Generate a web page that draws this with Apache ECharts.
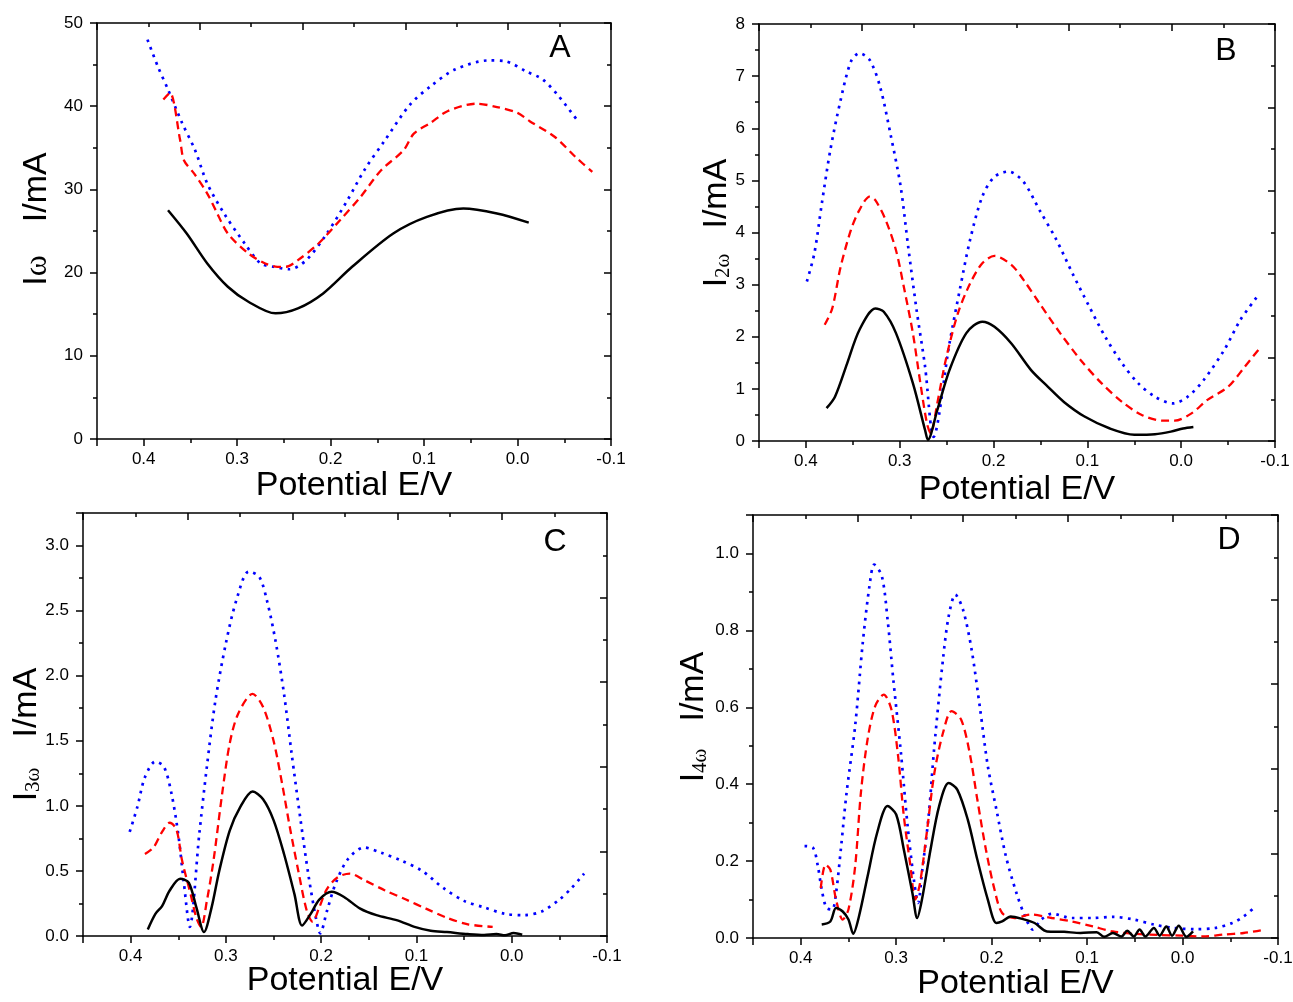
<!DOCTYPE html>
<html>
<head>
<meta charset="utf-8">
<script src="https://cdn.jsdelivr.net/npm/echarts@6/dist/echarts.min.js"></script>
<style>
  html, body { margin: 0; padding: 0; background: #fff; }
  #chart { width: 1293px; height: 1002px; }
</style>
</head>
<body>
<div id="chart"></div>
<script>
// [potential E/V, current] pairs
// panel A: I(omega)
const aBlack = [[0.374,27.5],[0.354,24.7],[0.332,21.1],[0.310,18.3],[0.288,16.5],[0.259,15.1],[0.235,15.7],[0.208,17.5],[0.177,20.7],[0.133,24.7],[0.097,26.7],[0.058,27.7],[0.022,27.1],[-0.012,26.0]];
const aRed = [[0.379,40.8],[0.372,41.6],[0.361,35.9],[0.357,33.5],[0.346,31.9],[0.332,29.5],[0.323,27.5],[0.310,24.7],[0.288,22.3],[0.270,21.1],[0.257,20.7],[0.248,20.7],[0.235,21.5],[0.213,23.5],[0.190,26.3],[0.168,29.1],[0.146,32.3],[0.122,34.7],[0.111,36.7],[0.093,38.0],[0.075,39.4],[0.044,40.3],[0.022,39.9],[0.0,39.2],[-0.013,38.2],[-0.040,36.3],[-0.062,33.9],[-0.080,32.1]];
const aBlue = [[0.396,48.0],[0.385,44.8],[0.374,42.0],[0.359,38.0],[0.345,34.7],[0.332,30.7],[0.314,27.1],[0.292,23.5],[0.275,21.1],[0.261,20.7],[0.244,20.4],[0.226,21.5],[0.204,24.7],[0.182,28.7],[0.164,32.3],[0.142,35.9],[0.115,40.2],[0.093,42.4],[0.067,44.4],[0.031,45.5],[0.013,45.4],[-0.009,44.2],[-0.027,43.2],[-0.044,41.2],[-0.066,38.0]];

// panel B: I(2 omega)
const bBlack = [[0.378,0.63],[0.369,0.85],[0.356,1.49],[0.343,2.13],[0.326,2.54],[0.317,2.48],[0.304,2.07],[0.286,1.11],[0.273,0.21],[0.270,0.02],[0.260,0.59],[0.247,1.36],[0.229,2.07],[0.212,2.29],[0.199,2.19],[0.181,1.87],[0.160,1.36],[0.142,1.04],[0.125,0.75],[0.103,0.47],[0.076,0.24],[0.050,0.12],[0.028,0.13],[0.011,0.18],[-0.002,0.24],[-0.013,0.27]];
const bRed = [[0.380,2.23],[0.372,2.54],[0.363,3.34],[0.352,4.05],[0.343,4.43],[0.332,4.69],[0.326,4.62],[0.315,4.24],[0.304,3.66],[0.295,2.90],[0.286,2.07],[0.278,1.11],[0.271,0.34],[0.267,0.15],[0.260,0.72],[0.251,1.55],[0.238,2.45],[0.225,3.02],[0.212,3.41],[0.199,3.55],[0.181,3.38],[0.168,3.09],[0.151,2.64],[0.129,2.07],[0.107,1.55],[0.085,1.11],[0.063,0.75],[0.042,0.50],[0.020,0.39],[0.007,0.39],[-0.011,0.53],[-0.028,0.79],[-0.050,1.04],[-0.068,1.43],[-0.085,1.81]];
const bBlue = [[0.399,3.06],[0.391,3.60],[0.383,4.56],[0.374,5.58],[0.363,6.54],[0.352,7.28],[0.343,7.44],[0.332,7.31],[0.321,6.80],[0.310,5.90],[0.299,4.88],[0.291,3.73],[0.282,2.51],[0.273,1.43],[0.264,0.08],[0.247,1.87],[0.236,2.90],[0.225,3.86],[0.212,4.69],[0.199,5.07],[0.184,5.17],[0.168,4.97],[0.151,4.43],[0.133,3.86],[0.116,3.22],[0.098,2.58],[0.081,2.00],[0.063,1.49],[0.046,1.11],[0.028,0.85],[0.009,0.72],[-0.007,0.85],[-0.024,1.17],[-0.046,1.75],[-0.063,2.32],[-0.081,2.77]];

// panel C: I(3 omega)
const cBlack = [[0.382,0.05],[0.374,0.17],[0.367,0.23],[0.359,0.35],[0.348,0.44],[0.339,0.41],[0.331,0.22],[0.323,0.03],[0.315,0.22],[0.307,0.50],[0.296,0.81],[0.285,0.99],[0.272,1.11],[0.261,1.05],[0.250,0.89],[0.239,0.63],[0.228,0.32],[0.220,0.08],[0.211,0.17],[0.202,0.28],[0.189,0.34],[0.176,0.30],[0.159,0.21],[0.142,0.16],[0.120,0.12],[0.102,0.07],[0.085,0.04],[0.068,0.03],[0.046,0.015],[0.029,0.008],[0.016,0.015],[0.007,0.005],[-0.002,0.023],[-0.011,0.01]];
const cRed = [[0.385,0.63],[0.376,0.68],[0.367,0.80],[0.359,0.87],[0.352,0.82],[0.346,0.58],[0.337,0.32],[0.331,0.14],[0.326,0.07],[0.320,0.27],[0.313,0.58],[0.304,1.09],[0.296,1.48],[0.287,1.71],[0.272,1.86],[0.261,1.76],[0.250,1.50],[0.241,1.17],[0.233,0.84],[0.224,0.50],[0.215,0.19],[0.209,0.11],[0.202,0.22],[0.194,0.36],[0.183,0.45],[0.170,0.48],[0.155,0.43],[0.133,0.35],[0.111,0.28],[0.090,0.21],[0.068,0.14],[0.046,0.09],[0.020,0.07]];
const cBlue = [[0.401,0.80],[0.393,0.99],[0.385,1.22],[0.374,1.34],[0.365,1.30],[0.357,1.09],[0.350,0.78],[0.344,0.40],[0.338,0.07],[0.328,0.78],[0.320,1.30],[0.311,1.81],[0.300,2.25],[0.289,2.58],[0.276,2.80],[0.265,2.76],[0.257,2.58],[0.248,2.27],[0.239,1.86],[0.231,1.40],[0.222,0.91],[0.213,0.45],[0.205,0.12],[0.201,0.02],[0.194,0.19],[0.185,0.40],[0.172,0.59],[0.155,0.68],[0.137,0.64],[0.116,0.58],[0.094,0.50],[0.072,0.37],[0.050,0.27],[0.029,0.22],[0.007,0.17],[-0.013,0.16],[-0.032,0.19],[-0.050,0.28],[-0.063,0.37],[-0.076,0.48]];

// panel D: I(4 omega)
const dBlack = [[0.378,0.035],[0.369,0.043],[0.363,0.078],[0.356,0.069],[0.350,0.048],[0.345,0.011],[0.339,0.056],[0.330,0.160],[0.320,0.273],[0.309,0.343],[0.300,0.321],[0.292,0.230],[0.283,0.117],[0.278,0.052],[0.273,0.100],[0.264,0.230],[0.255,0.343],[0.245,0.403],[0.236,0.386],[0.225,0.308],[0.215,0.204],[0.204,0.100],[0.195,0.039],[0.189,0.043],[0.180,0.056],[0.167,0.049],[0.155,0.039],[0.142,0.017],[0.124,0.016],[0.107,0.013],[0.090,0.015],[0.082,0.003],[0.073,0.013],[0.064,0.004],[0.058,0.019],[0.051,0.004],[0.045,0.022],[0.039,0.004],[0.030,0.026],[0.024,0.006],[0.017,0.030],[0.011,0.006],[0.004,0.032],[-0.004,0.003],[-0.011,0.017]];
const dRed = [[0.379,0.130],[0.374,0.191],[0.369,0.178],[0.363,0.100],[0.356,0.048],[0.350,0.074],[0.343,0.186],[0.337,0.377],[0.330,0.516],[0.322,0.603],[0.313,0.633],[0.305,0.594],[0.298,0.473],[0.292,0.317],[0.285,0.186],[0.280,0.100],[0.275,0.143],[0.268,0.273],[0.260,0.429],[0.251,0.533],[0.242,0.590],[0.232,0.568],[0.223,0.481],[0.215,0.360],[0.206,0.230],[0.197,0.126],[0.189,0.065],[0.176,0.052],[0.159,0.061],[0.137,0.052],[0.116,0.043],[0.094,0.030],[0.073,0.017],[0.051,0.011],[0.026,0.008],[0.0,0.006],[-0.021,0.004],[-0.043,0.009],[-0.064,0.013],[-0.082,0.020]];
const dBlue = [[0.396,0.239],[0.387,0.234],[0.382,0.186],[0.378,0.126],[0.373,0.078],[0.367,0.074],[0.363,0.117],[0.358,0.230],[0.352,0.377],[0.343,0.551],[0.335,0.768],[0.328,0.915],[0.323,0.971],[0.315,0.941],[0.309,0.828],[0.303,0.672],[0.295,0.481],[0.288,0.291],[0.281,0.143],[0.277,0.091],[0.273,0.169],[0.266,0.317],[0.260,0.499],[0.251,0.724],[0.245,0.837],[0.238,0.893],[0.230,0.854],[0.221,0.750],[0.212,0.594],[0.204,0.447],[0.195,0.334],[0.185,0.212],[0.174,0.117],[0.165,0.056],[0.157,0.022],[0.148,0.048],[0.137,0.063],[0.116,0.052],[0.094,0.052],[0.073,0.055],[0.051,0.048],[0.030,0.035],[0.009,0.026],[-0.013,0.023],[-0.034,0.026],[-0.052,0.039],[-0.064,0.056],[-0.076,0.081]];

// tick settings of the left axes
const yMax = [50, 8, 3.25, 1.1];
const yStep = [10, 1, 0.5, 0.2];
const letters = ['A', 'B', 'C', 'D'];
const subs = ['', '2', '3', '4'];

const FONT = 'Liberation Sans';
const black = '#000';

let myChart = echarts.init(document.getElementById('chart'));

// panel boxes [left, top, width, height]
let boxes = [
  [97, 23, 514, 416],
  [759, 24, 516, 417],
  [83, 513, 524, 423],
  [753, 515, 525, 423]
];
let xNameGap = [30, 32, 28, 29];
let yNameGap = [43, 25, 39, 42];
// shifts the rotated y title along the axis (left pad = up, right pad = down)
let yNamePad = [[0, 0, 0, 24], [0, 0, 0, 19], [0, 20, 0, 0], [0, 0, 0, 19]];
let omegaGap = [33, 25, 30, 27];
let letterPos = [[560, 48], [1226, 51], [555, 542], [1229, 540]];

let lineSt = { color: black, width: 1.5 };

let grids = [], xAxes = [], yAxes = [], series = [], graphics = [];

let all = [[aBlack, aRed, aBlue], [bBlack, bRed, bBlue], [cBlack, cRed, cBlue], [dBlack, dRed, dBlue]];

for (let p = 0; p < 4; p++) {
  let b = boxes[p];
  grids.push({ left: b[0], top: b[1], width: b[2], height: b[3], outerBoundsMode: 'none', containLabel: false });

  // bottom axis with labels
  xAxes.push({
    type: 'value', gridIndex: p, position: 'bottom', inverse: true,
    min: -0.1, max: 0.45, interval: 0.1,
    axisLine: { show: true, onZero: false, lineStyle: lineSt },
    axisTick: { show: true, length: 7, lineStyle: lineSt },
    minorTick: { show: true, splitNumber: 2, length: 4, lineStyle: lineSt },
    splitLine: { show: false },
    axisLabel: {
      color: black, fontSize: 17, fontFamily: FONT, margin: 12,
      showMaxLabel: false,
      formatter: (v) => (Math.round(v * 10) / 10).toFixed(1)
    },
    name: 'Potential E/V', nameLocation: 'middle', nameGap: xNameGap[p],
    nameMoveOverlap: false,
    nameTextStyle: { color: black, fontSize: 34, fontFamily: FONT }
  });
  // mirrored top frame
  xAxes.push({
    type: 'value', gridIndex: p, position: 'top',
    min: 0, max: 1, interval: 0.2,
    axisLine: { show: true, onZero: false, lineStyle: lineSt },
    axisTick: { show: true, inside: true, length: 7, lineStyle: lineSt },
    minorTick: { show: true, splitNumber: 2, length: 4, lineStyle: lineSt },
    splitLine: { show: false },
    axisLabel: { show: false }
  });

  let nm = '{i|I}' + (subs[p] ? '{s|' + subs[p] + 'ω}' : '{w|ω}') + '{g| }{i|I/mA}';
  yAxes.push({
    type: 'value', gridIndex: p, position: 'left',
    min: 0, max: yMax[p], interval: yStep[p],
    axisLine: { show: true, onZero: false, lineStyle: lineSt },
    axisTick: { show: true, length: 7, lineStyle: lineSt },
    minorTick: { show: true, splitNumber: 2, length: 4, lineStyle: lineSt },
    splitLine: { show: false },
    axisLabel: {
      color: black, fontSize: 17, fontFamily: FONT, margin: 14,
      showMaxLabel: p < 2,
      formatter: (v) => p < 2 ? String(Math.round(v)) : v.toFixed(1)
    },
    name: nm, nameLocation: 'middle', nameGap: yNameGap[p],
    nameMoveOverlap: false,
    nameTextStyle: {
      color: black, fontSize: 34, fontFamily: FONT, padding: yNamePad[p],
      rich: {
        i: { fontSize: 34, fontFamily: FONT, lineHeight: 34, verticalAlign: 'bottom', color: black },
        w: { fontSize: 32, fontFamily: 'Liberation Serif', lineHeight: 32, verticalAlign: 'bottom', color: black },
        s: { fontSize: 21, fontFamily: 'Liberation Serif', lineHeight: 21, verticalAlign: 'bottom', color: black },
        g: { width: omegaGap[p], fontSize: 10, lineHeight: 10, verticalAlign: 'bottom' }
      }
    }
  });
  // mirrored right frame
  yAxes.push({
    type: 'value', gridIndex: p, position: 'right',
    min: 0, max: 1, interval: 0.2,
    axisLine: { show: true, onZero: false, lineStyle: lineSt },
    axisTick: { show: true, inside: true, length: 7, lineStyle: lineSt },
    minorTick: { show: true, splitNumber: 2, length: 4, lineStyle: lineSt },
    splitLine: { show: false },
    axisLabel: { show: false }
  });

  let [blk, red, blu] = all[p];
  series.push({
    type: 'line', xAxisIndex: 2 * p, yAxisIndex: 2 * p, data: blu,
    smooth: 0.3, showSymbol: false, silent: true,
    lineStyle: { color: '#0000ff', width: 2.7, type: [2.7, 5.3], cap: 'butt' }
  });
  series.push({
    type: 'line', xAxisIndex: 2 * p, yAxisIndex: 2 * p, data: red,
    smooth: 0.3, showSymbol: false, silent: true,
    lineStyle: { color: '#ff0000', width: 2.3, type: [8, 5] }
  });
  series.push({
    type: 'line', xAxisIndex: 2 * p, yAxisIndex: 2 * p, data: blk,
    smooth: 0.3, showSymbol: false, silent: true,
    lineStyle: { color: black, width: 2.5, type: 'solid' }
  });

  graphics.push({
    type: 'text', x: letterPos[p][0], y: letterPos[p][1],
    style: {
      text: letters[p], fontSize: 32, fontFamily: FONT, fill: black,
      textAlign: 'center', textVerticalAlign: 'middle'
    }
  });
}

myChart.setOption({
  animation: false,
  backgroundColor: '#fff',
  grid: grids,
  xAxis: xAxes,
  yAxis: yAxes,
  series: series,
  graphic: graphics
});
</script>
</body>
</html>
